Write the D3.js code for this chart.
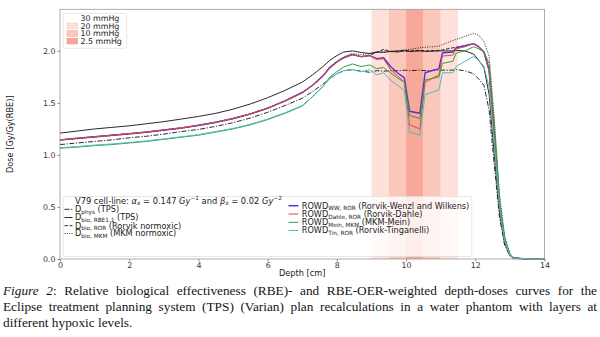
<!DOCTYPE html>
<html>
<head>
<meta charset="utf-8">
<script src="https://cdn.jsdelivr.net/npm/d3@7"></script>
<style>
  body { margin: 0; background: #fff; width: 600px; height: 337px; overflow: hidden; position: relative; }
  #chart { position: absolute; left: 0; top: 0; }
  #caption { position: absolute; left: 3px; top: 283px; width: 594px; color: #141414;
             font-family: "Liberation Serif", "Times New Roman", serif; font-size: 13.3px; line-height: 16.2px; }
  #caption div { text-align: justify; text-align-last: justify; white-space: nowrap; }
  #caption div.last { text-align-last: left; }
</style>
</head>
<body>
<div id="chart"></div>
<div id="caption"></div>
<script>
// profondeurs (cm) et doses
var depth = [0, 0.5, 1, 1.5, 2, 2.5, 3, 3.5, 4, 4.5, 5, 5.5, 6, 6.5, 7, 7.3, 7.6, 7.8,
  8.0, 8.2, 8.45, 8.7, 8.95, 9.15, 9.35, 9.55, 9.75, 9.95, 10.1, 10.4, 10.55, 10.95, 11.05,
  11.35, 11.45, 11.7, 11.95, 12.1, 12.25, 12.4, 12.55, 12.7, 12.85, 13.0, 13.1, 13.5, 14];

var dPhys = [1.10, 1.115, 1.13, 1.145, 1.165, 1.18, 1.20, 1.225, 1.245, 1.275, 1.31, 1.355, 1.41, 1.475, 1.545,
  1.61, 1.68, 1.735, 1.78, 1.81, 1.82, 1.805, 1.795, 1.81, 1.805, 1.81, 1.81, 1.815, 1.81, 1.815, 1.81, 1.815, 1.815,
  1.815, 1.82, 1.81, 1.78, 1.73, 1.67, 1.43, 0.9, 0.4, 0.13, 0.03, 0.005, 0, 0];
var dRbe11 = [1.21, 1.23, 1.25, 1.265, 1.28, 1.30, 1.32, 1.345, 1.37, 1.40, 1.44, 1.49, 1.55, 1.62, 1.70,
  1.77, 1.85, 1.91, 1.955, 1.99, 2.0, 1.985, 1.975, 1.99, 1.985, 1.995, 1.99, 2.0, 1.995, 2.0, 1.995, 2.0, 2.0,
  2.0, 2.005, 2.0, 1.97, 1.91, 1.84, 1.58, 1.0, 0.45, 0.15, 0.04, 0.01, 0, 0];
var dRor = [1.145, 1.16, 1.175, 1.19, 1.205, 1.22, 1.24, 1.26, 1.285, 1.315, 1.35, 1.395, 1.45, 1.52, 1.60,
  1.67, 1.76, 1.84, 1.895, 1.935, 1.965, 1.945, 1.96, 1.985, 2.015, 1.995, 2.0, 2.005, 2.0, 2.005, 2.0, 2.005, 2.01,
  2.03, 2.035, 2.05, 2.07, 2.04, 1.99, 1.82, 1.2, 0.52, 0.18, 0.04, 0.01, 0, 0];
var dMkm = [1.14, 1.155, 1.17, 1.185, 1.20, 1.215, 1.235, 1.255, 1.28, 1.31, 1.345, 1.39, 1.445, 1.515, 1.595,
  1.67, 1.76, 1.85, 1.90, 1.945, 1.975, 1.965, 1.975, 1.985, 2.0, 1.995, 2.0, 2.01, 2.015, 2.03, 2.035, 2.045, 2.06,
  2.1, 2.11, 2.14, 2.17, 2.15, 2.09, 1.95, 1.35, 0.62, 0.22, 0.05, 0.01, 0, 0];
var rowdWW = [1.145, 1.16, 1.175, 1.19, 1.205, 1.22, 1.24, 1.26, 1.285, 1.315, 1.35, 1.395, 1.45, 1.52, 1.60,
  1.67, 1.76, 1.84, 1.895, 1.935, 1.965, 1.945, 1.955, 1.925, 1.935, 1.85, 1.79, 1.74, 1.42, 1.40, 1.79, 1.83, 1.98,
  1.99, 2.03, 2.05, 2.07, 2.04, 1.99, 1.82, 1.2, 0.52, 0.18, 0.04, 0.01, 0, 0];
var rowdDahle = [1.145, 1.16, 1.175, 1.19, 1.205, 1.22, 1.24, 1.26, 1.285, 1.315, 1.35, 1.395, 1.45, 1.52, 1.60,
  1.67, 1.76, 1.84, 1.895, 1.935, 1.965, 1.945, 1.955, 1.92, 1.925, 1.82, 1.76, 1.70, 1.29, 1.25, 1.70, 1.77, 1.95,
  1.96, 2.02, 2.04, 2.07, 2.04, 1.98, 1.80, 1.18, 0.5, 0.17, 0.04, 0.01, 0, 0];
var rowdMein = [1.065, 1.075, 1.09, 1.10, 1.115, 1.13, 1.15, 1.17, 1.19, 1.22, 1.25, 1.29, 1.34, 1.40, 1.47,
  1.56, 1.66, 1.75, 1.80, 1.845, 1.875, 1.85, 1.865, 1.83, 1.84, 1.79, 1.74, 1.70, 1.38, 1.35, 1.72, 1.75, 1.88,
  1.90, 1.98, 2.0, 2.04, 2.02, 1.99, 1.88, 1.3, 0.58, 0.2, 0.05, 0.01, 0, 0];
var rowdTin = [1.07, 1.08, 1.095, 1.105, 1.12, 1.135, 1.155, 1.175, 1.195, 1.225, 1.255, 1.295, 1.345, 1.405, 1.475,
  1.56, 1.66, 1.735, 1.78, 1.81, 1.82, 1.80, 1.82, 1.77, 1.79, 1.72, 1.67, 1.62, 1.22, 1.19, 1.58, 1.625, 1.79,
  1.79, 1.85, 1.90, 1.945, 1.91, 1.85, 1.65, 1.1, 0.5, 0.17, 0.04, 0.01, 0, 0];

var xTicks = [0, 2, 4, 6, 8, 10, 12, 14];
var yTicks = [0, 0.5, 1.0, 1.5, 2.0];

// couches hypoxiques
var hypoxLevels = ["30 mmHg", "20 mmHg", "10 mmHg", "2.5 mmHg"];
var bandFrom = [9.0, 11.0, 9.5, 10.5, 10.0];
var bandTo = [9.5, 11.5, 10.0, 11.0, 10.5];
var bandLevel = [1, 1, 2, 2, 3];
var bandColor = ["#ffffff", "#fde1da", "#fbc7bb", "#f8a898"];
var bandEdge = ["#ffffff", "#f4c9bf", "#eea899", "#e88c7b"];

var margin = { top: 9.3, left: 60, right: 55.5, bottom: 21 };
var W = 600, H = 280;

var x = d3.scaleLinear().domain([0, 14]).range([margin.left, W - margin.right]);
var y = d3.scaleLinear().domain([0, 2.4]).range([H - margin.bottom, margin.top]);

var svg = d3.select("#chart").append("svg").attr("width", W).attr("height", H)
  .style("font-family", "'DejaVu Sans', sans-serif");

// bandes
svg.selectAll("rect.band").data(bandFrom).enter().append("rect")
  .attr("class", "band")
  .attr("x", function (d) { return x(d); })
  .attr("width", function (d, i) { return x(bandTo[i]) - x(d); })
  .attr("y", y(2.4)).attr("height", y(0) - y(2.4))
  .attr("fill", function (d, i) { return bandColor[bandLevel[i]]; });

var series = [
  { v: dPhys, color: "#111", dash: "5,1.6,1.2,1.6", w: 0.9 },
  { v: dRbe11, color: "#111", dash: null, w: 0.9 },
  { v: dRor, color: "#111", dash: "3.5,1.6", w: 0.9 },
  { v: dMkm, color: "#111", dash: "1,1.4", w: 0.9 },
  { v: rowdWW, color: "#5a34d0", dash: null, w: 1.5 },
  { v: rowdDahle, color: "#e0473d", dash: null, w: 1 },
  { v: rowdMein, color: "#3c9a3c", dash: null, w: 1 },
  { v: rowdTin, color: "#4bbdbd", dash: null, w: 1 }
];

var line = d3.line()
  .x(function (d, i) { return x(depth[i]); })
  .y(function (d) { return y(d); });

series.forEach(function (s) {
  svg.append("path").datum(s.v)
    .attr("d", line)
    .attr("fill", "none")
    .attr("stroke", s.color)
    .attr("stroke-width", s.w)
    .attr("stroke-dasharray", s.dash)
    .attr("stroke-linejoin", "round");
});

// axes
var ejeX = d3.axisBottom(x).tickValues(xTicks).tickSize(2.5).tickPadding(1).tickFormat(d3.format("d"));
var gx = svg.append("g").attr("transform", "translate(0," + y(0) + ")").call(ejeX);
var ejeY = d3.axisLeft(y).tickValues(yTicks).tickSize(2.5).tickPadding(2).tickFormat(d3.format(".1f"));
var gy = svg.append("g").attr("transform", "translate(" + x(0) + ",0)").call(ejeY);
[gx, gy].forEach(function (g) {
  g.select(".domain").remove();
  g.selectAll(".tick line").attr("stroke", "#555").attr("stroke-width", 0.7);
  g.selectAll(".tick text").attr("fill", "#333").style("font-size", "7.9px")
    .style("font-family", "'DejaVu Sans', sans-serif");
});

svg.append("rect")
  .attr("x", x(0)).attr("y", y(2.4))
  .attr("width", x(14) - x(0)).attr("height", y(0) - y(2.4))
  .attr("fill", "none").attr("stroke", "#999").attr("stroke-width", 0.8);

svg.append("text").text("Depth [cm]")
  .attr("x", (x(0) + x(14)) / 2).attr("y", 275.5)
  .attr("text-anchor", "middle").attr("font-size", 8.2).attr("fill", "#222");

svg.append("text").text("Dose [Gy/Gy(RBE)]")
  .attr("transform", "translate(12.5," + (y(0) + y(2.4)) / 2 + ") rotate(-90)")
  .attr("text-anchor", "middle").attr("font-size", 8.2).attr("fill", "#222");

// texte avec indices / exposants
function richText(g, tx, ty, parts, size) {
  var t = g.append("text").attr("x", tx).attr("y", ty).attr("font-size", size).attr("fill", "#222");
  var shift = 0;
  parts.forEach(function (p) {
    var target = p.sub ? size * 0.2 : (p.sup ? -size * 0.38 : 0);
    var ts = t.append("tspan").text(p.t).attr("dy", target - shift);
    if (p.sub || p.sup) ts.attr("font-size", size * 0.7);
    if (p.it) ts.attr("font-style", "italic");
    shift = target;
  });
  return t;
}

// légende des niveaux hypoxiques
var lg1 = svg.append("g");
lg1.append("rect").attr("x", 63.3).attr("y", 13.3).attr("width", 63.4).attr("height", 35)
  .attr("rx", 2).attr("fill", "#fff").attr("fill-opacity", 0.8).attr("stroke", "#ddd").attr("stroke-width", 0.7);
hypoxLevels.forEach(function (lab, i) {
  var cy = 18.3 + i * 7.6;
  if (i > 0) {
    lg1.append("rect").attr("x", 67).attr("y", cy - 2.8).attr("width", 10.4).attr("height", 5.6)
      .attr("fill", bandColor[i]).attr("stroke", bandEdge[i]).attr("stroke-width", 0.6);
  }
  lg1.append("text").text(lab).attr("x", 80.5).attr("y", cy + 2.8)
    .attr("font-size", 7.9).attr("fill", "#222");
});

// légende des courbes
var lg2 = svg.append("g");
lg2.append("rect").attr("x", 63.3).attr("y", 196.5).attr("width", 408.5).attr("height", 60)
  .attr("rx", 2).attr("fill", "#fff").attr("fill-opacity", 0.8).attr("stroke", "#ddd").attr("stroke-width", 0.7);

richText(lg2, 75, 203.6, [
  { t: "V79 cell-line: " }, { t: "α", it: true }, { t: "x", sub: true, it: true }, { t: " = 0.147 " },
  { t: "Gy", it: true }, { t: "−1", sup: true }, { t: " and " }, { t: "β", it: true }, { t: "x", sub: true, it: true },
  { t: " = 0.02 " }, { t: "Gy", it: true }, { t: "−2", sup: true }
], 8.3);

var leftRows = [
  { s: 0, cy: 209.3, parts: [{ t: "D" }, { t: "phys", sub: true }, { t: " (TPS)" }] },
  { s: 1, cy: 217.5, parts: [{ t: "D" }, { t: "bio, RBE1.1", sub: true }, { t: " (TPS)" }] },
  { s: 2, cy: 225.7, parts: [{ t: "D" }, { t: "bio, ROR", sub: true }, { t: " (Rorvik normoxic)" }] },
  { s: 3, cy: 233.5, parts: [{ t: "D" }, { t: "bio, MKM", sub: true }, { t: " (MKM normoxic)" }] }
];
var rightRows = [
  { s: 4, cy: 205.7, parts: [{ t: "ROWD" }, { t: "WW, ROR", sub: true }, { t: " (Rorvik-Wenzl and Wilkens)" }] },
  { s: 5, cy: 214, parts: [{ t: "ROWD" }, { t: "Dahle, ROR", sub: true }, { t: " (Rorvik-Dahle)" }] },
  { s: 6, cy: 222.3, parts: [{ t: "ROWD" }, { t: "Mein, MKM", sub: true }, { t: " (MKM-Mein)" }] },
  { s: 7, cy: 230.5, parts: [{ t: "ROWD" }, { t: "Tin, ROR", sub: true }, { t: " (Rorvik-Tinganelli)" }] }
];
function legendRow(r, x0, x1, tx) {
  var s = series[r.s];
  lg2.append("line").attr("x1", x0).attr("x2", x1).attr("y1", r.cy).attr("y2", r.cy)
    .attr("stroke", s.color).attr("stroke-width", s.w).attr("stroke-dasharray", s.dash);
  richText(lg2, tx, r.cy + 2.9, r.parts, 8.2);
}
leftRows.forEach(function (r) { legendRow(r, 64.5, 72.5, 75); });
rightRows.forEach(function (r) { legendRow(r, 288.5, 298.5, 301.7); });

// légende de la figure
var captionLines = [
  "<i>Figure 2</i>: Relative biological effectiveness (RBE)- and RBE-OER-weighted depth-doses curves for the",
  "Eclipse treatment planning system (TPS) (Varian) plan recalculations in a water phantom with layers at",
  "different hypoxic levels."
];
d3.select("#caption").selectAll("div").data(captionLines).enter().append("div")
  .attr("class", function (d, i) { return i === captionLines.length - 1 ? "last" : null; })
  .html(function (d) { return d; });
</script>
</body>
</html>
